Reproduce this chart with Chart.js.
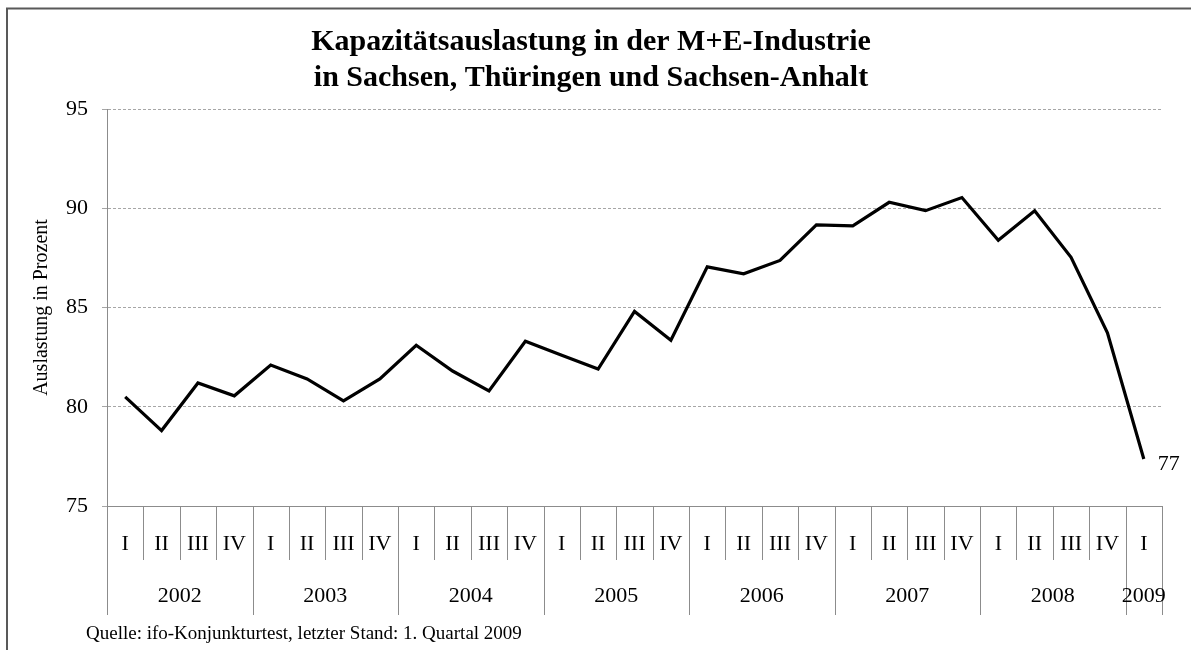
<!DOCTYPE html>
<html>
<head>
<meta charset="utf-8">
<script src="https://cdn.jsdelivr.net/npm/chart.js@4.4.1/dist/chart.umd.min.js"></script>
<style>
  html, body { margin: 0; padding: 0; background: #fff; }
  #wrap { position: relative; width: 1191px; height: 650px; }
</style>
</head>
<body>
<div id="wrap"><canvas id="capacityChart" width="1191" height="650"></canvas></div>
<script>
// Data
const quarterLabels = [
    'I', 'II', 'III', 'IV', 'I', 'II', 'III', 'IV', 'I', 'II', 'III', 'IV',
    'I', 'II', 'III', 'IV', 'I', 'II', 'III', 'IV', 'I', 'II', 'III', 'IV',
    'I', 'II', 'III', 'IV', 'I'
];
const years = ['2002', '2003', '2004', '2005', '2006', '2007', '2008', '2009'];
const utilization = [
    80.5, 78.8, 81.2, 80.55, 82.1, 81.4, 80.3, 81.4, 83.1, 81.8, 80.8, 83.3,
    82.6, 81.9, 84.8, 83.35, 87.05, 86.7, 87.37, 89.16, 89.11, 90.3, 89.88, 90.54,
    88.39, 89.87, 87.53, 83.72, 77.37
];
const yTicks = [75, 80, 85, 90, 95];
const titleLines = ['Kapazitätsauslastung in der M+E-Industrie', 'in Sachsen, Thüringen und Sachsen-Anhalt'];
const yAxisTitle = 'Auslastung in Prozent';
const sourceNote = 'Quelle: ifo-Konjunkturtest, letzter Stand: 1. Quartal 2009';

const SERIF = "'Liberation Serif', 'Times New Roman', serif";
const AXIS_GREY = '#8c8c8c';

/**
 * Draws the frame, the two-level category separators, year labels,
 * end label and the source note
 */
const decorPlugin = {
    id: 'decor',
    afterDraw(chart) {
        const ctx = chart.ctx;
        const xs = chart.scales.x;
        const ys = chart.scales.y;
        const n = quarterLabels.length;
        const axisY = chart.chartArea.bottom;

        ctx.save();

        // outer frame (only left and top edges are inside the picture)
        ctx.strokeStyle = '#595959';
        ctx.lineWidth = 2;
        ctx.beginPath();
        ctx.moveTo(7, 650);
        ctx.lineTo(7, 8.5);
        ctx.lineTo(1191, 8.5);
        ctx.stroke();

        // separators between quarters / years
        ctx.strokeStyle = AXIS_GREY;
        ctx.lineWidth = 1;
        for (let i = 0; i <= n; i++) {
            let px;
            if (i === 0) px = xs.left;
            else if (i === n) px = xs.right;
            else px = (xs.getPixelForValue(i - 1) + xs.getPixelForValue(i)) / 2;
            px = Math.round(px) + 0.5;
            const yearEdge = (i % 4 === 0) || i === n;
            ctx.beginPath();
            ctx.moveTo(px, axisY);
            ctx.lineTo(px, yearEdge ? axisY + 109 : axisY + 54);
            ctx.stroke();
        }

        // year labels
        ctx.fillStyle = '#000';
        ctx.font = '22px ' + SERIF;
        ctx.textAlign = 'center';
        ctx.textBaseline = 'middle';
        years.forEach((yr, k) => {
            const a = k * 4;
            const b = Math.min(a + 3, n - 1);
            const cx = (xs.getPixelForValue(a) + xs.getPixelForValue(b)) / 2;
            ctx.fillText(yr, cx, axisY + 90);
        });

        // value at the last point
        const last = utilization[n - 1];
        ctx.textAlign = 'left';
        ctx.fillText(String(Math.round(last)), xs.getPixelForValue(n - 1) + 14, ys.getPixelForValue(last) + 5);

        // source note
        ctx.font = '19px ' + SERIF;
        ctx.fillText(sourceNote, 86, 634);

        ctx.restore();
    }
};

new Chart(document.getElementById('capacityChart').getContext('2d'), {
    type: 'line',
    data: {
        labels: quarterLabels,
        datasets: [{
            data: utilization,
            borderColor: '#000',
            borderWidth: 3.2,
            pointRadius: 0,
            tension: 0,
            fill: false
        }]
    },
    options: {
        responsive: false,
        animation: false,
        layout: { padding: { top: 6, left: 20, right: 29, bottom: 0 } },
        plugins: {
            legend: { display: false },
            tooltip: { enabled: false },
            title: {
                display: true,
                text: titleLines,
                color: '#000',
                font: { family: SERIF, size: 30, weight: 'bold', lineHeight: 1.2 },
                padding: { top: 18, bottom: 13 }
            }
        },
        scales: {
            x: {
                offset: true,
                grid: { display: true, drawOnChartArea: false, drawTicks: false },
                border: { color: AXIS_GREY },
                ticks: {
                    color: '#000',
                    font: { family: SERIF, size: 22 },
                    padding: 25,
                    maxRotation: 0,
                    autoSkip: false
                },
                afterFit(scale) { scale.height = 144; }
            },
            y: {
                min: yTicks[0],
                max: yTicks[yTicks.length - 1],
                afterBuildTicks(scale) { scale.ticks = yTicks.map(v => ({ value: v })); },
                grid: { color: '#a6a6a6', tickLength: 5, tickColor: '#a6a6a6' },
                border: { color: AXIS_GREY, dash: [3, 2] },
                ticks: {
                    color: '#000',
                    font: { family: SERIF, size: 22 },
                    padding: 14
                },
                title: {
                    display: true,
                    text: yAxisTitle,
                    color: '#000',
                    font: { family: SERIF, size: 20 },
                    padding: { top: 10, bottom: 0 }
                },
                afterFit(scale) { scale.width = 87; }
            }
        }
    },
    plugins: [decorPlugin]
});
</script>
</body>
</html>
